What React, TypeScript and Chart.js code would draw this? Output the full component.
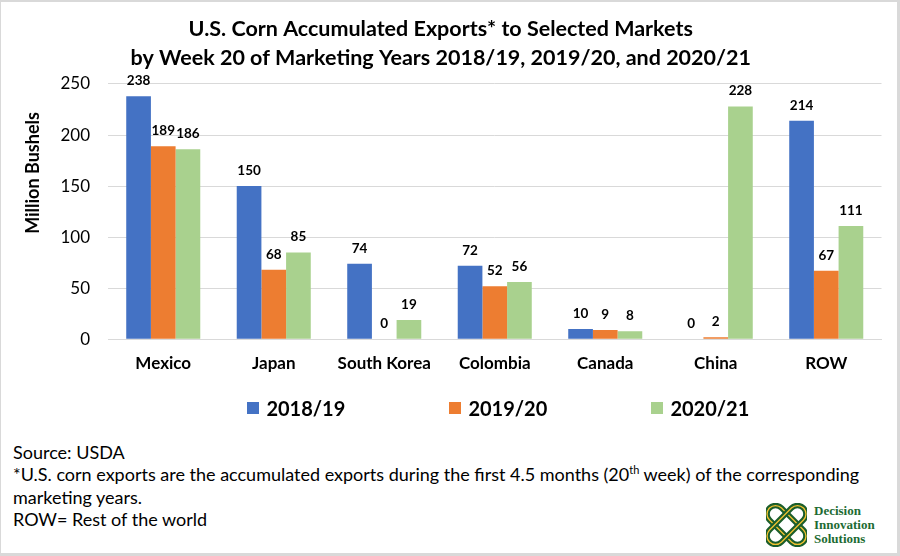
import React, { useEffect, useRef } from 'react';
import { Chart, registerables } from 'chart.js';

Chart.register(...registerables);

const categories = ['Mexico', 'Japan', 'South Korea', 'Colombia', 'Canada', 'China', 'ROW'];
const seriesNames = ['2018/19', '2019/20', '2020/21'];
const values1819 = [238, 150, 74, 72, 10, 0, 214];
const values1920 = [189, 68, 0, 52, 9, 2, 67];
const values2021 = [186, 85, 19, 56, 8, 228, 111];
const seriesColors = ['#4472C4', '#ED7D31', '#A9D18E'];
const yTickValues = [0, 50, 100, 150, 200, 250];
const titleLines = [
  'U.S. Corn Accumulated Exports* to Selected Markets',
  'by Week 20 of Marketing Years 2018/19, 2019/20, and 2020/21',
];
const yAxisTitle = 'Million Bushels';

const FONT = 'Lato, "Open Sans", sans-serif';

const valueLabels = {
  id: 'valueLabels',
  afterDatasetsDraw(chart: any) {
    const { ctx } = chart;
    ctx.save();
    ctx.font = `bold 13.5px ${FONT}`;
    ctx.fillStyle = '#000';
    ctx.textAlign = 'center';
    ctx.textBaseline = 'middle';
    chart.data.datasets.forEach((ds: any, i: number) => {
      const meta = chart.getDatasetMeta(i);
      meta.data.forEach((bar: any, j: number) => {
        ctx.fillText(String(ds.data[j]), bar.x, bar.y - 15.5);
      });
    });
    ctx.restore();
  },
};

const yTitlePlugin = {
  id: 'yTitlePlugin',
  afterDraw(chart: any) {
    const { ctx } = chart;
    ctx.save();
    ctx.translate(33.5, 173);
    ctx.rotate(-Math.PI / 2);
    ctx.font = `bold 18px ${FONT}`;
    ctx.fillStyle = '#000';
    ctx.textAlign = 'center';
    ctx.textBaseline = 'middle';
    ctx.fillText(yAxisTitle, 0, 0);
    ctx.restore();
  },
};

function Logo() {
  return (
    <div style={{ position: 'absolute', left: 765, top: 501, display: 'flex', alignItems: 'flex-start' }}>
      <svg width={41} height={44} viewBox="0 0 41 44">
        <g transform="translate(20.5,22) rotate(45)">
          <rect x={-24} y={-8.5} width={48} height={17} rx={8.5} fill="none" stroke="#1B5E2B" strokeWidth={5.5} />
          <rect x={-24} y={-8.5} width={48} height={17} rx={8.5} fill="none" stroke="#F2C230" strokeWidth={1.3} />
        </g>
        <g transform="translate(20.5,22) rotate(-45)">
          <rect x={-24} y={-8.5} width={48} height={17} rx={8.5} fill="none" stroke="#1B5E2B" strokeWidth={5.5} />
          <rect x={-24} y={-8.5} width={48} height={17} rx={8.5} fill="none" stroke="#F2C230" strokeWidth={1.3} />
        </g>
      </svg>
      <div
        style={{
          marginLeft: 7,
          marginTop: 1,
          fontFamily: '"Liberation Serif", "DejaVu Serif", serif',
          fontWeight: 'bold',
          fontSize: 13,
          lineHeight: '14px',
          color: '#1D6B32',
        }}
      >
        <div>Decision</div>
        <div>Innovation</div>
        <div>Solutions</div>
      </div>
    </div>
  );
}

export default function App() {
  const canvasRef = useRef<HTMLCanvasElement | null>(null);

  useEffect(() => {
    if (!canvasRef.current) return;
    const seriesValues = [values1819, values1920, values2021];
    const chart = new Chart(canvasRef.current, {
      type: 'bar',
      data: {
        labels: categories,
        datasets: seriesNames.map((name, i) => ({
          label: name,
          data: seriesValues[i],
          backgroundColor: seriesColors[i],
          borderWidth: 0,
          categoryPercentage: 0.67,
          barPercentage: 1,
        })),
      },
      options: {
        responsive: false,
        animation: false,
        maintainAspectRatio: false,
        layout: { padding: { left: 0, right: 18.5, top: 0, bottom: 20.7 } },
        plugins: {
          legend: { display: false },
          tooltip: { enabled: false },
          title: {
            display: true,
            text: titleLines,
            color: '#000',
            font: { family: FONT, size: 21.5, weight: 'bold', lineHeight: 1.36 },
            padding: { top: 14, bottom: 11.5 },
          },
        },
        scales: {
          x: {
            grid: { display: false, drawTicks: false },
            border: { display: true, color: '#D9D9D9' },
            ticks: {
              color: '#000',
              font: { family: FONT, size: 17, weight: 'bold' },
              padding: 14,
              maxRotation: 0,
              autoSkip: false,
            },
            afterFit(scale: any) {
              scale.height = 40;
            },
          },
          y: {
            min: 0,
            max: 250,
            grid: { color: '#D9D9D9', drawTicks: false },
            border: { display: false },
            ticks: {
              color: '#000',
              font: { family: FONT, size: 17 },
              padding: 18,
            },
            afterBuildTicks(scale: any) {
              scale.ticks = yTickValues.map((v) => ({ value: v }));
            },
            afterFit(scale: any) {
              scale.width = 108;
            },
          },
        },
      },
      plugins: [valueLabels, yTitlePlugin],
    } as any);
    return () => chart.destroy();
  }, []);

  return (
    <div
      style={{
        position: 'absolute',
        left: 0,
        top: 0,
        width: 900,
        height: 556,
        background: '#fff',
        boxSizing: 'border-box',
        borderTop: '2px solid #D9D9D9',
        borderLeft: '1px solid #D9D9D9',
        borderRight: '3px solid #D9D9D9',
        borderBottom: '3px solid #D9D9D9',
        overflow: 'hidden',
        fontFamily: FONT,
      }}
    >
      <canvas ref={canvasRef} width={900} height={400} style={{ position: 'absolute', left: -1, top: -2 }} />
      <div style={{ position: 'absolute', left: 246, top: 394, height: 24, display: 'flex' }}>
        {seriesNames.map((name, i) => (
          <div key={name} style={{ width: 202, display: 'flex', alignItems: 'center', height: 24 }}>
            <div style={{ width: 12, height: 12, background: seriesColors[i], marginRight: 7.4 }} />
            <span style={{ fontWeight: 'bold', fontSize: 20, lineHeight: '24px', color: '#000' }}>{name}</span>
          </div>
        ))}
      </div>
      <div
        style={{
          position: 'absolute',
          left: 12,
          top: 439,
          fontSize: 18,
          lineHeight: '22.3px',
          color: '#000',
        }}
      >
        <div>Source: USDA</div>
        <div>
          *U.S. corn exports are the accumulated exports during the first 4.5 months (20
          <sup style={{ fontSize: 11, lineHeight: 0 }}>th</sup> week) of the corresponding
        </div>
        <div>marketing years.</div>
        <div>ROW= Rest of the world</div>
      </div>
      <Logo />
    </div>
  );
}
